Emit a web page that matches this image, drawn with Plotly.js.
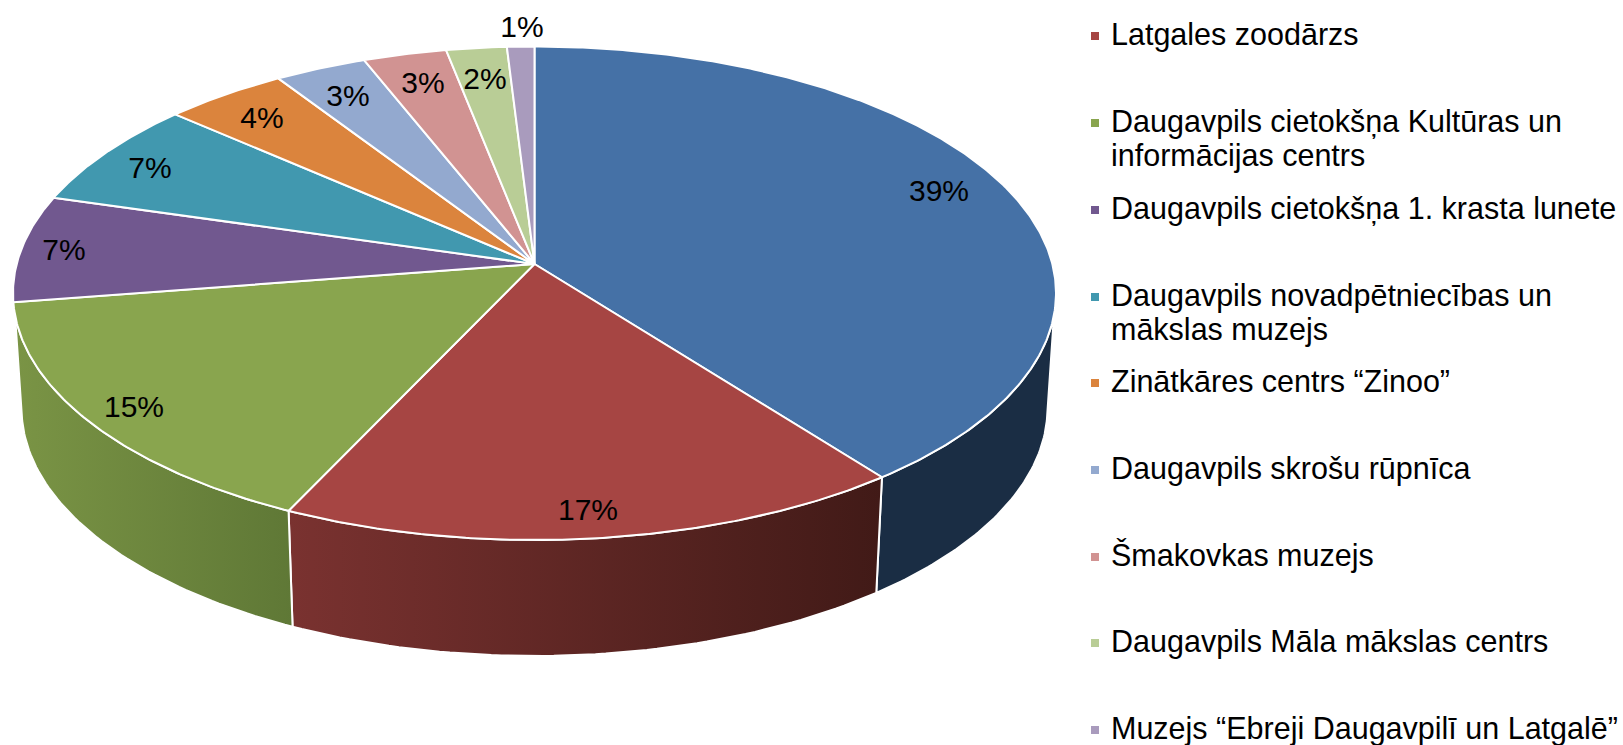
<!DOCTYPE html>
<html><head><meta charset="utf-8">
<script src="https://cdn.plot.ly/plotly-3.0.1.min.js"></script>
<style>html,body{margin:0;padding:0;background:#fff;overflow:hidden}</style>
</head><body><div id="chart" style="width:1623px;height:745px"></div>
<script>
// ---- data ----
const sliceValues = [39.58, 17.36, 15.56, 7.0, 7.0, 4.3, 3.2, 2.9, 2.1, 0.95];
const percentLabels = ["39%","17%","15%","7%","7%","4%","3%","3%","2%","1%"];
const legendNames = [
  "Latgales zoodārzs",
  "Daugavpils cietokšņa Kultūras un<br>informācijas centrs",
  "Daugavpils cietokšņa 1. krasta lunete",
  "Daugavpils novadpētniecības un<br>mākslas muzejs",
  "Zinātkāres centrs “Zinoo”",
  "Daugavpils skrošu rūpnīca",
  "Šmakovkas muzejs",
  "Daugavpils Māla mākslas centrs",
  "Muzejs “Ebreji Daugavpilī un Latgalē”"
];
// ---- styles and placement ----
const topColors = ["#4571a6","#a64543","#89a54e","#71588f","#4198af","#db843d","#93a9cf","#d19392","#b9cd96","#a99bbd"];
const wallStops = [["#1a2d44","#1a2d44"],["#7a3230","#411a17"],["#7a9445","#5f7836"]];
const labelX = [939,588,134,64,150,262,348,423,485,522];
const labelY = [193,512,409,252,170,120,98,85,81,29];
const legendRowY = [34,121,208,295,381,468,555,641,728];
const legendSwatchX = 1095, swatchDy = 2, legendTextX = 1110, labelFont = 30, legendFont = 30.5, lineH = 34;
const apexX = 534.5, apexY = 264, ellCy = 293, ellRx = 521.5, ellRy = 247;
const botCy = 408, botRx = 513, botRy = 248;
const persp = (276-217.5)/(276+217.5), pa = ellRx*Math.sqrt(1-persp*persp), pb = 217.5*(1+persp);
const deg = Math.PI/180;

function topPoint(thetaDeg){
  const X = Math.sin(thetaDeg*deg), Y = Math.cos(thetaDeg*deg), w = 1+persp*Y;
  return [apexX + pa*X/w, apexY - pb*Y/w];
}
function ellAngle(thetaDeg){
  const p = topPoint(thetaDeg);
  let a = Math.atan2((p[1]-ellCy)/ellRy,(p[0]-apexX)/ellRx)/deg;
  if (a < -90) a += 360;
  return a;
}
const total = sliceValues.reduce((s,v)=>s+v,0);
let acc = 0;
const spans = sliceValues.map(v=>{const a=acc/total*360; acc+=v; return [a,acc/total*360];});

const traces = [];
// side walls
spans.forEach((sp,i)=>{
  const a0 = i===0 ? -90 : ellAngle(sp[0]);
  const a1 = i===spans.length-1 ? 270 : ellAngle(sp[1]);
  const s = Math.max(a0,5), e = Math.min(a1,175);
  if (e <= s) return;
  const sb = a0<5 ? 3 : s, eb = a1>175 ? 177 : e;
  const x=[],y=[];
  for(let t=0;t<=60;t++){const f=(s+(e-s)*t/60)*deg; x.push(apexX+ellRx*Math.cos(f)); y.push(ellCy+ellRy*Math.sin(f));}
  for(let t=60;t>=0;t--){const f=(sb+(eb-sb)*t/60)*deg; x.push(apexX+botRx*Math.cos(f)); y.push(botCy+botRy*Math.sin(f));}
  x.push(x[0]); y.push(y[0]);
  traces.push({type:"scatter",mode:"lines",x,y,fill:"toself",hoverinfo:"skip",showlegend:false,
    line:{color:"#ffffff",width:2},
    fillgradient:{type:"horizontal",colorscale:[[0,wallStops[i][0]],[1,wallStops[i][1]]]}});
});
// top face
spans.forEach((sp,i)=>{
  const x=[apexX],y=[apexY],n=Math.max(2,Math.ceil(sp[1]-sp[0])*2);
  for(let t=0;t<=n;t++){const p=topPoint(sp[0]+(sp[1]-sp[0])*t/n); x.push(p[0]); y.push(p[1]);}
  x.push(apexX); y.push(apexY);
  traces.push({type:"scatter",mode:"lines",x,y,fill:"toself",fillcolor:topColors[i],hoverinfo:"skip",showlegend:false,
    line:{color:"#ffffff",width:2}});
});
// percentage labels
traces.push({type:"scatter",mode:"text",x:labelX,y:labelY,text:percentLabels,textposition:"middle center",
  textfont:{family:"Liberation Sans, Arial, sans-serif",size:labelFont,color:"#000"},hoverinfo:"skip",showlegend:false});
// legend swatches
traces.push({type:"scatter",mode:"markers",x:legendRowY.map(()=>legendSwatchX),y:legendRowY.map(v=>v+swatchDy),hoverinfo:"skip",showlegend:false,
  marker:{symbol:"square",size:8,color:topColors.slice(1),line:{width:0}}});

const annotations = [];
legendNames.forEach((t,i)=>t.split("<br>").forEach((line,j)=>annotations.push({
  xref:"x",yref:"y",x:legendTextX,y:legendRowY[i]+j*lineH,text:line,showarrow:false,
  xanchor:"left",yanchor:"middle",align:"left",borderpad:0,
  font:{family:"Liberation Sans, Arial, sans-serif",size:legendFont,color:"#000"}})));

Plotly.newPlot("chart",traces,{
  width:1623,height:745,margin:{l:0,r:0,t:0,b:0},paper_bgcolor:"#fff",plot_bgcolor:"#fff",showlegend:false,
  xaxis:{range:[0,1623],visible:false,fixedrange:true},
  yaxis:{range:[745,0],visible:false,fixedrange:true},
  annotations
},{staticPlot:true,displayModeBar:false});
</script></body></html>
